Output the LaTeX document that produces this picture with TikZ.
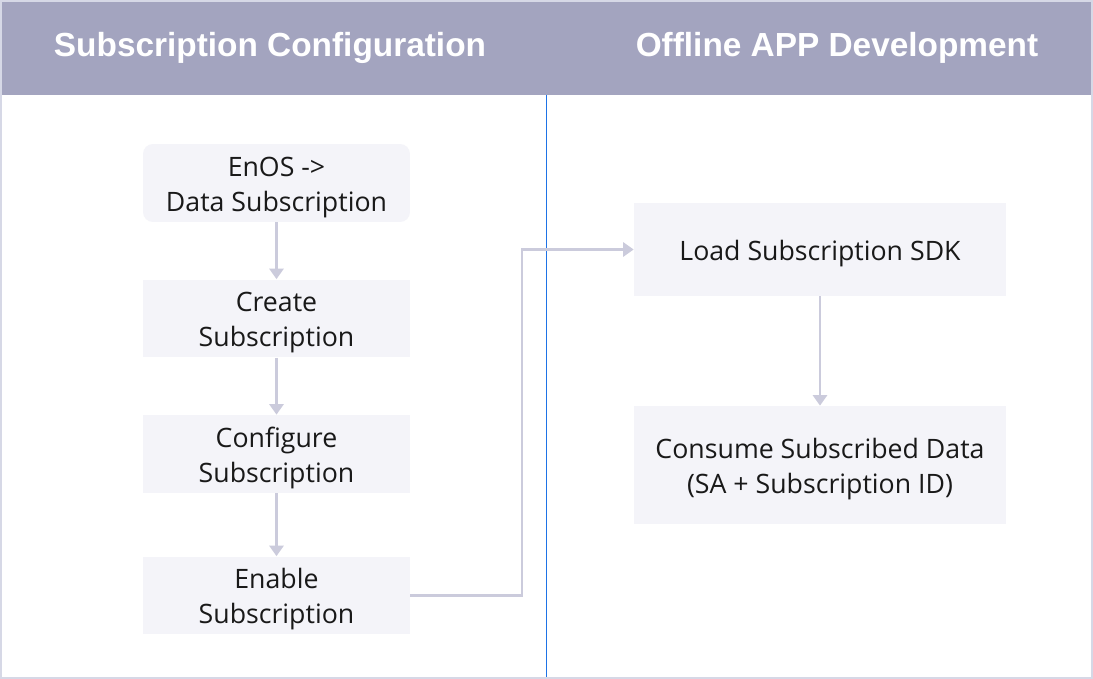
\documentclass[tikz,border=0pt]{standalone}
\usepackage{fontspec}
\setmainfont{Open Sans}
\newfontfamily\hdfont{Liberation Sans}
\usetikzlibrary{arrows.meta}
\definecolor{SChead}{RGB}{163,164,191}
\definecolor{SCfill}{RGB}{244,244,249}
\definecolor{SCline}{RGB}{203,203,220}
\definecolor{SCframe}{RGB}{214,216,230}
\definecolor{SCsep}{RGB}{30,115,230}
\tikzset{SCbox/.style={fill=SCfill,align=center,font=\fontsize{15.2}{20}\selectfont,text=black!90,
                       minimum width=5.34cm,minimum height=1.56cm,inner sep=0pt,
                       execute at begin node={\rule{0pt}{#1}}},
         SCbox/.default=36pt,
         SCwide/.style={SCbox=#1,minimum width=7.44cm},
         SCwide/.default=36pt,
         SCarr/.style={draw=SCline,line width=1.7pt,-{Triangle[length=6pt,width=8pt]}},
         SChd/.style={font=\hdfont\bfseries\fontsize{19}{22}\selectfont,text=white}}

\begin{document}
\begin{tikzpicture}[x=0.02cm,y=-0.02cm]
  \useasboundingbox (0,0) rectangle (1093,679);
  % frame and header band
  \fill[white] (0,0) rectangle (1093,679);
  \fill[SChead] (0,0) rectangle (1093,95);
  \draw[SCframe,line width=0.04cm] (1,1) rectangle (1092,678);
  \node[SChd] (h1) at (270,48) {Subscription Configuration};
  \node[SChd] (h2) at (837,48) {Offline APP Development};
  \draw[SCsep,line width=0.02cm] (546,95) -- (546,677);
  % left column
  \node[SCbox,rounded corners=0.2cm] (eo) at (276.5,183) {EnOS ->\\Data Subscription};
  \foreach \y/\n/\t in {318.5/cr/Create,454/cf/Configure,595.5/en/Enable}
     {\node[SCbox] (\n) at (276.5,\y) {\t\\Subscription};}
  \draw[SCarr] (eo)--(cr); \draw[SCarr] (cr)--(cf); \draw[SCarr] (cf)--(en);
  % right column
  \node[SCwide=16pt,minimum height=1.86cm] (ld) at (820,249.5) {Load Subscription SDK};
  \node[SCwide,minimum height=2.36cm] (cs) at (820,465) {Consume Subscribed Data\\(SA + Subscription ID)};
  \coordinate (turn) at (522,249.5);
  \draw[SCarr] (en.east) -| (turn) -- (ld.west);
  \draw[SCarr] (ld)--(cs);
\end{tikzpicture}
\end{document}
